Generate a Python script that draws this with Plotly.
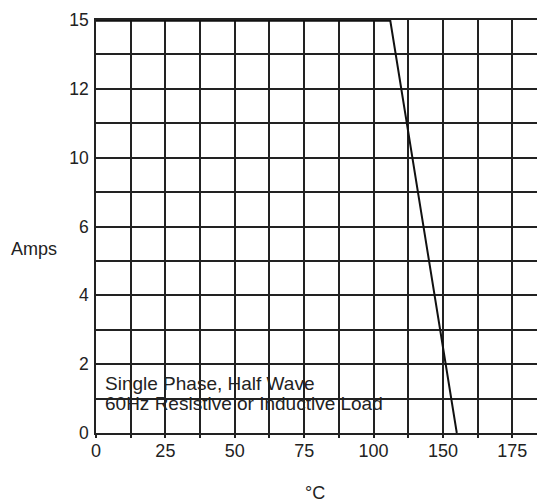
import plotly.graph_objects as go

# Data (x in axis units, 12.5 per grid division; y in axis units, 1 per grid division)
temp_c = [0, 106, 130]
amps_axis = [12, 12, 0]  # 12 is the level labelled "15"

x_tickvals = [0, 25, 50, 75, 100, 125, 150]
x_ticktext = ["0", "25", "50", "75", "100", "150", "175"]
y_tickvals = [0, 2, 4, 6, 8, 10, 12]
y_ticktext = ["0", "2", "4", "6", "10", "12", "15"]

note_line1 = "Single Phase, Half Wave"
note_line2 = "60Hz Resistive or Inductive Load"
x_title = "°C"
y_title = "Amps"

FONT = "Liberation Sans, Arial, Helvetica, sans-serif"
INK = "#222222"

OFF = 8  # page body margin
W, H = 545 - OFF, 503 - OFF
# target page pixels: plot left 96, top 19.5, bottom 433.5, right 545
ML, MR, MT, MB = 96 - OFF, 0, 19.5 - OFF, 503 - 433.5

fig = go.Figure()
fig.add_trace(go.Scatter(
    x=temp_c, y=amps_axis, mode="lines",
    line=dict(color="#111111", width=2),
    hoverinfo="skip", showlegend=False,
))
# heavier rendering of the flat (rated-current) segment along the top edge
fig.add_trace(go.Scatter(
    x=temp_c[:2], y=amps_axis[:2], mode="lines",
    line=dict(color="#111111", width=3.5),
    hoverinfo="skip", showlegend=False,
))

grid = dict(color=INK, width=1.5)

fig.update_xaxes(
    range=[0, (545 - 96) / ((512.3 - 96) / 12) * 12.5],
    tickmode="array", tickvals=x_tickvals, ticktext=x_ticktext,
    ticks="outside", ticklen=3, tickwidth=1.5, tickcolor=INK,
    ticklabelstandoff=-2,
    showgrid=True, gridcolor=grid["color"], gridwidth=grid["width"],
    minor=dict(tickmode="linear", tick0=0, dtick=12.5, showgrid=True,
               gridcolor=grid["color"], gridwidth=grid["width"],
               ticks="outside", ticklen=3, tickwidth=1.5, tickcolor=INK),
    showline=True, linecolor=INK, linewidth=1.5, mirror=True,
    zeroline=False,
    tickfont=dict(family=FONT, size=18, color=INK),
    fixedrange=True,
)
fig.update_yaxes(
    range=[0, 12],
    tickmode="array", tickvals=y_tickvals, ticktext=y_ticktext,
    ticks="", ticklabelstandoff=2,
    showgrid=True, gridcolor=grid["color"], gridwidth=grid["width"],
    minor=dict(tickmode="linear", tick0=0, dtick=1, showgrid=True,
               gridcolor=grid["color"], gridwidth=grid["width"], ticks=""),
    showline=True, linecolor=INK, linewidth=1.5,
    zeroline=False,
    tickfont=dict(family=FONT, size=17.5, color=INK),
    fixedrange=True,
)

pw = 545 - 96
ph = 433.5 - 19.5


def px(xp):
    return (xp - 96) / pw


def py(yp):
    return (433.5 - yp) / ph


annotations = [
    dict(text=note_line1, x=px(103), y=py(384), xanchor="left", yanchor="middle", size=19),
    dict(text=note_line2, x=px(103), y=py(404), xanchor="left", yanchor="middle", size=19),
    dict(text=y_title, x=px(9), y=py(249), xanchor="left", yanchor="middle", size=18),
    dict(text=x_title, x=px(315), y=py(494), xanchor="center", yanchor="middle", size=18),
]
for a in annotations:
    size = a.pop("size")
    a.update(xref="paper", yref="paper", showarrow=False,
             font=dict(family=FONT, size=size, color=INK))

fig.update_layout(
    width=W, height=H,
    margin=dict(l=ML, r=MR, t=MT, b=MB, pad=0),
    paper_bgcolor="white", plot_bgcolor="white",
    annotations=annotations,
    showlegend=False,
)

fig.write_html("out.html", config={"displayModeBar": False})
